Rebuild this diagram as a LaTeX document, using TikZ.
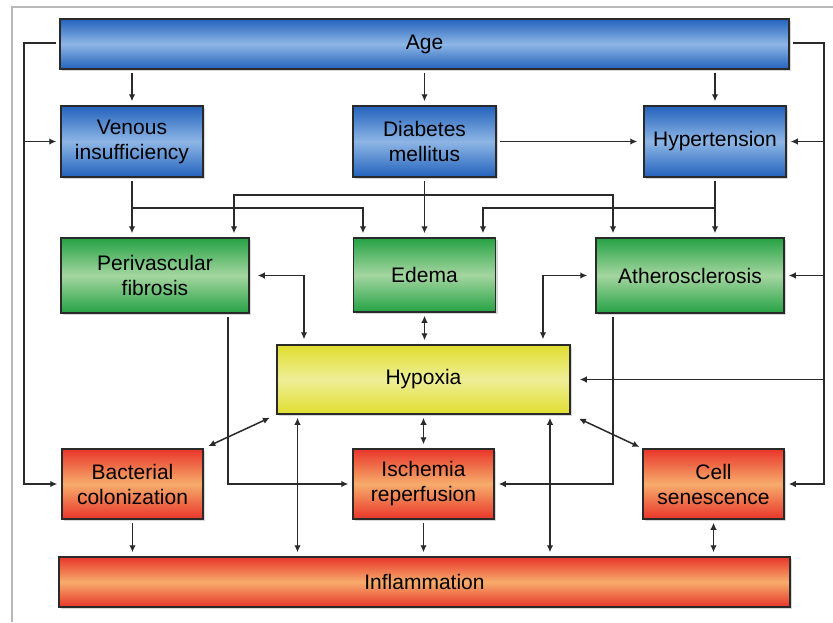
\documentclass[tikz,border=0pt]{standalone}
\usepackage{fontspec}
\setmainfont{Liberation Sans}
\usetikzlibrary{arrows.meta,shadows}
\definecolor{blueE}{HTML}{2362BC}
\definecolor{blueM}{HTML}{8DB6E5}
\definecolor{greenE}{HTML}{25A244}
\definecolor{greenM}{HTML}{A4D6A0}
\definecolor{yelE}{HTML}{E0DE2E}
\definecolor{yelM}{HTML}{EEEE98}
\definecolor{redE}{HTML}{E8352A}
\definecolor{redM}{HTML}{F7AC6C}
\definecolor{lineC}{HTML}{2A2A2A}
\begin{document}
\begin{tikzpicture}[x=1pt,y=-1pt,
  box/.style={draw=lineC, line width=1.5pt, rectangle, align=center, inner sep=0pt,
    font=\fontsize{21}{25}\selectfont, text=black,
    drop shadow={shadow xshift=2pt, shadow yshift=-2pt, opacity=0.3}},
  bluebox/.style={box, top color=blueE, bottom color=blueE, middle color=blueM},
  greenbox/.style={box, top color=greenE, bottom color=greenE, middle color=greenM},
  yelbox/.style={box, top color=yelE, bottom color=yelE, middle color=yelM},
  redbox/.style={box, top color=redE, bottom color=redE, middle color=redM},
  link/.style={draw=lineC, line width=1.5pt, -{Latex[length=7pt,width=6.5pt]}, shorten <=3pt, shorten >=4pt},
  dbl/.style={link, {Latex[length=7pt,width=6.5pt]}-{Latex[length=7pt,width=6.5pt]}},
  frame/.style={draw=black!28, line width=2pt}]
\useasboundingbox (0,0) rectangle (833,622);
\fill[white] (0,0) rectangle (833,622);
\draw[frame] (12,622) -- (12,7) -- (833,7);

% nodes
\node[bluebox, minimum width=729pt, minimum height=50pt] (age) at (424.5,44) {Age};
\node[bluebox, minimum width=142pt, minimum height=71pt] (ven) at (132,141.5) {Venous\\insufficiency};
\node[bluebox, minimum width=143pt, minimum height=71pt] (dia) at (424.5,141.5) {Diabetes\\mellitus};
\node[bluebox, minimum width=142pt, minimum height=71pt] (hyp) at (715,141.5) {Hypertension};
\node[greenbox, minimum width=188pt, minimum height=75pt] (per) at (155,275.5) {Perivascular\\fibrosis};
\node[greenbox, minimum width=142pt, minimum height=74pt] (ede) at (424.5,275) {Edema};
\node[greenbox, minimum width=188pt, minimum height=75pt] (ath) at (690,275.5) {Atherosclerosis};
\node[yelbox, minimum width=293pt, minimum height=69pt] (hpx) at (423.5,379.5) {Hypoxia};
\node[redbox, minimum width=141pt, minimum height=70pt] (bac) at (132.5,484) {Bacterial\\colonization};
\node[redbox, minimum width=141pt, minimum height=70pt] (isc) at (423.5,484) {Ischemia\\reperfusion};
\node[redbox, minimum width=141pt, minimum height=70pt] (cel) at (713.5,484) {Cell\\senescence};
\node[redbox, minimum width=731pt, minimum height=50pt] (inf) at (424.5,582) {Inflammation};

% junction coordinates
\coordinate (L) at (24,43);
\coordinate (R) at (824,43);
\coordinate (j1) at (132,208);
\coordinate (j2) at (424.5,195);
\coordinate (j3) at (715,208);

% Age outer loops
\draw[link] (age.west |- L) -- (L) |- (bac.west);
\draw[link, shorten <=0pt] (L |- ven.west) -- (ven.west);
\draw[link] (age.east |- R) -- (R) |- (cel.east);
\draw[link, shorten <=0pt] (R |- hyp.east) -- (hyp.east);
\draw[link, shorten <=0pt] (R |- ath.east) -- (ath.east);
\draw[link, shorten <=0pt, shorten >=9pt] (R |- hpx.east) -- (hpx.east);

% Age down
\draw[link] (age.south -| ven.north) -- (ven.north);
\draw[link] (age.south -| dia.north) -- (dia.north);
\draw[link] (age.south -| hyp.north) -- (hyp.north);

% Diabetes -> Hypertension
\draw[link, shorten >=6pt] (dia.east) -- (hyp.west);

% Venous down
\draw[link] (ven.south) -- (j1) -- (j1 |- per.north);
\draw[link, shorten <=0pt] (j1) -| ([xshift=-61.5pt]ede.north);
% Diabetes down
\draw[link] (dia.south) -- (dia.south |- ede.north);
\draw[link, shorten <=0pt] (j2) -| ([xshift=79pt]per.north);
\draw[link, shorten <=0pt] (j2) -| ([xshift=-77pt]ath.north);
% Hypertension down
\draw[link] (hyp.south) -- (hyp.south |- ath.north);
\draw[link, shorten <=0pt] (j3) -| ([xshift=58.5pt]ede.north);

% Green <-> Hypoxia
\draw[dbl, shorten <=8pt, shorten >=5pt] (per.east) -| ([xshift=-119.5pt]hpx.north);
\draw[dbl, shorten <=8pt, shorten >=5pt] (ath.west) -| ([xshift=119.5pt]hpx.north);
\draw[dbl] (ede.south) -- (ede.south |- hpx.north);

% Green -> Ischemia
\draw[link] ([xshift=73pt]per.south) |- (isc.west);
\draw[link] ([xshift=-77pt]ath.south) |- (isc.east);

% Hypoxia <-> red boxes
\draw[dbl, shorten <=7pt, shorten >=5pt] (hpx.south west) -- (bac.north east);
\draw[dbl, shorten <=9pt, shorten >=3pt] (hpx.south east) -- (cel.north west);
\draw[dbl] (hpx.south) -- (hpx.south |- isc.north);
\draw[dbl] ([xshift=-126pt]hpx.south) -- ([xshift=-126pt]hpx.south |- inf.north);
\draw[dbl] ([xshift=126.5pt]hpx.south) -- ([xshift=126.5pt]hpx.south |- inf.north);

% red -> Inflammation
\draw[link] (bac.south) -- (bac.south |- inf.north);
\draw[link] (isc.south) -- (isc.south |- inf.north);
\draw[dbl] (cel.south) -- (cel.south |- inf.north);
\end{tikzpicture}
\end{document}
